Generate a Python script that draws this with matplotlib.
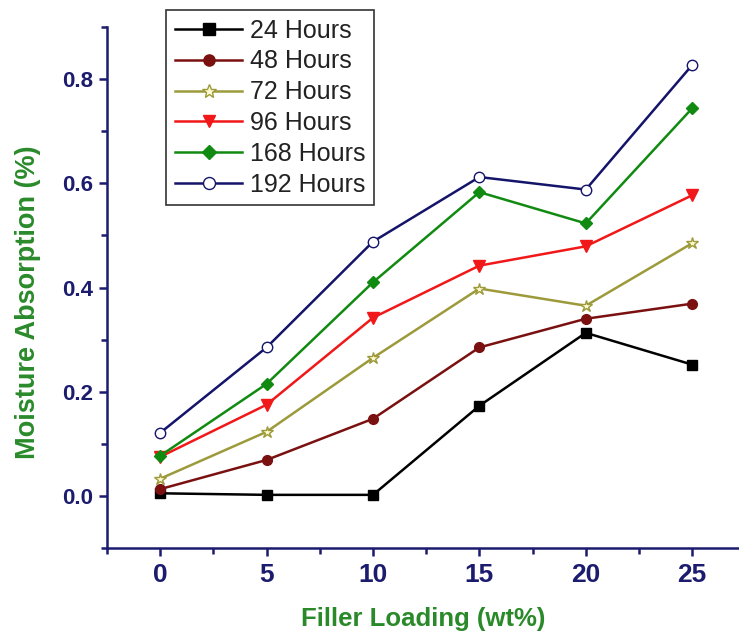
import matplotlib
matplotlib.use("Agg")
import matplotlib.pyplot as plt
from matplotlib.ticker import MultipleLocator

filler = [0, 5, 10, 15, 20, 25]
labels = ["24 Hours", "48 Hours", "72 Hours", "96 Hours", "168 Hours", "192 Hours"]
h24 = [0.005, 0.002, 0.002, 0.173, 0.313, 0.252]
h48 = [0.013, 0.069, 0.148, 0.285, 0.340, 0.369]
h72 = [0.033, 0.123, 0.265, 0.398, 0.365, 0.485]
h96 = [0.075, 0.175, 0.342, 0.442, 0.479, 0.577]
h168 = [0.077, 0.215, 0.410, 0.583, 0.523, 0.744]
h192 = [0.121, 0.285, 0.488, 0.612, 0.588, 0.827]
series = [h24, h48, h72, h96, h168, h192]

colors = ["#000000", "#7a1010", "#9c9a3a", "#f01818", "#118a11", "#14146a"]
markers = ["s", "o", "*", "v", "D", "o"]
mfc = ["#000000", "#7a1010", "#fffbd0", "#f01818", "#118a11", "#ffffff"]
msizes = [7, 7, 9, 8, 6.5, 7.5]

navy = "#1c1c6e"
green = "#2a8a2a"

plt.rcParams['font.family'] = ['Liberation Sans', 'DejaVu Sans']

fig = plt.figure(figsize=(7.39, 6.38), dpi=100)
ax = fig.add_axes([107/739, 1-548/638, 1-107/739, (548-27)/638])

for ys, lab, c, m, fc, ms in zip(series, labels, colors, markers, mfc, msizes):
    ax.plot(filler, ys, color=c, marker=m, markerfacecolor=fc,
            markeredgecolor=c, markersize=ms, linewidth=1.8,
            markeredgewidth=1.0, label=lab)

ax.set_xlim(-2.5, 27.2)
ax.set_ylim(-0.1, 0.9)
ax.xaxis.set_major_locator(MultipleLocator(5))
ax.xaxis.set_minor_locator(MultipleLocator(2.5))
ax.yaxis.set_major_locator(MultipleLocator(0.2))
ax.yaxis.set_minor_locator(MultipleLocator(0.1))
ax.set_xticks([0, 5, 10, 15, 20, 25])
ax.set_yticks([0.0, 0.2, 0.4, 0.6, 0.8])
ax.set_yticklabels(["0.0", "0.2", "0.4", "0.6", "0.8"])

for s in ["top", "right"]:
    ax.spines[s].set_visible(False)
for s in ["left", "bottom"]:
    ax.spines[s].set_color(navy)
    ax.spines[s].set_linewidth(1.8)

ax.tick_params(axis="both", which="major", direction="out", length=6, width=1.8,
               color=navy, labelcolor=navy)
ax.tick_params(axis="x", which="major", labelsize=19, pad=5)
ax.tick_params(axis="y", which="major", labelsize=16, pad=4)
ax.tick_params(axis="both", which="minor", direction="out", length=4, width=1.8, color=navy)
for t in ax.get_xticklabels() + ax.get_yticklabels():
    t.set_fontweight("bold")

ax.set_xlabel("Filler Loading (wt%)", fontsize=18.5, fontweight="bold", color=green, labelpad=14)
ax.set_ylabel("Moisture Absorption (%)", fontsize=19.5, fontweight="bold", color=green)
ax.yaxis.set_label_coords(-0.104, 0.472)

leg = ax.legend(loc="upper left", bbox_to_anchor=(166/739, 1-10/638),
                bbox_transform=fig.transFigure, borderaxespad=0, fontsize=18,
                frameon=True, fancybox=False, edgecolor="#000000",
                handlelength=2.7, handletextpad=0.3, labelspacing=0.27,
                borderpad=0.35, markerscale=1.15)
leg.get_frame().set_linewidth(1.2)
for t in leg.get_texts():
    t.set_color("#222222")

fig.savefig("out.png", dpi=100)
